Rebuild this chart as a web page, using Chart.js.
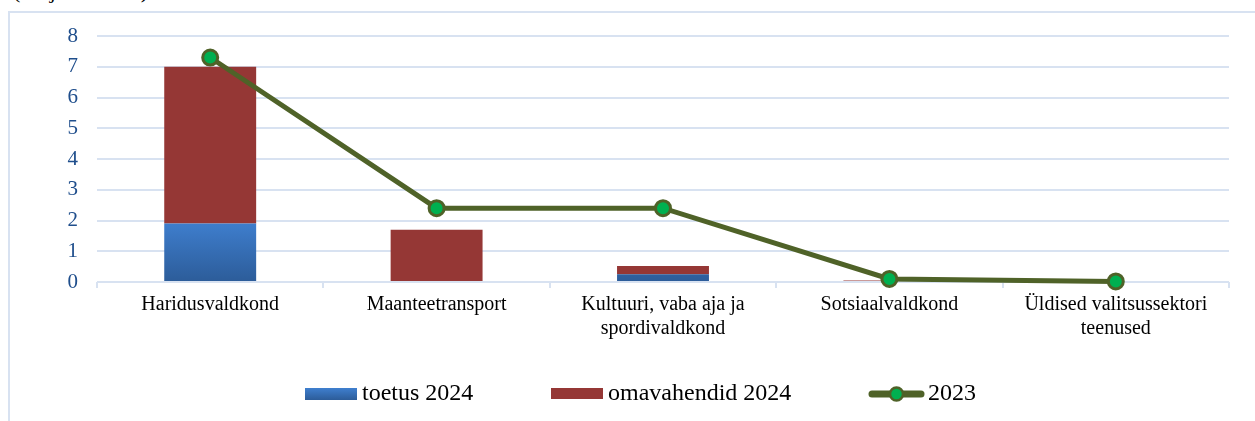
<!DOCTYPE html>
<html>
<head>
<meta charset="utf-8">
<script src="https://cdn.jsdelivr.net/npm/chart.js@4.4.0/dist/chart.umd.min.js"></script>
<style>
html, body { margin: 0; padding: 0; background: #fff; overflow: hidden; }
#wrap { position: relative; width: 1255px; height: 421px; overflow: hidden; }
#frame { position: absolute; left: 8px; top: 11px; right: -10px; bottom: -10px;
         border-left: 2px solid #d8e2f1; border-top: 2px solid #d8e2f1; }
#unit { position: absolute; left: 13px; top: -20px; font: 22px/22px "Liberation Serif", serif; color: #000; white-space: nowrap; }
canvas { position: absolute; left: 0; top: 0; }
</style>
</head>
<body>
<div id="wrap">
  <div id="frame"></div>
  <div id="unit">(miljonit eurot)</div>
  <canvas id="chart" width="1255" height="421"></canvas>
</div>
<script>
// values (mln eur)
const categories = [
    'Haridusvaldkond',
    'Maanteetransport',
    ['Kultuuri, vaba aja ja', 'spordivaldkond'],
    'Sotsiaalvaldkond',
    ['Üldised valitsussektori', 'teenused']
];
const toetus2024 = [1.9, 0, 0.25, 0, 0];
const omavahendid2024 = [5.1, 1.7, 0.27, 0.05, 0];
const values2023 = [7.3, 2.4, 2.4, 0.1, 0.02];
const seriesLabels = ['toetus 2024', 'omavahendid 2024', '2023'];
const yMin = 0, yMax = 8, yStep = 1;

const gridColor = '#d8e2f1';
const blueTop = '#3f7fcf', blueBottom = '#2c5c99';
const red = '#953735';
const olive = '#4f6228';
const green = '#00b050';
const serif = '"Liberation Serif", "Times New Roman", serif';

function blueFill(context) {
    const chart = context.chart;
    if (!chart.chartArea) return blueTop;
    const y = chart.scales.y;
    const g = chart.ctx.createLinearGradient(0, y.getPixelForValue(2), 0, y.getPixelForValue(0));
    g.addColorStop(0, blueTop);
    g.addColorStop(1, blueBottom);
    return g;
}

// legend drawn under the plot, placed like in the original
const bottomLegend = {
    id: 'bottomLegend',
    afterDraw(chart) {
        const ctx = chart.ctx;
        const cy = 394;
        ctx.save();
        let g = ctx.createLinearGradient(0, cy - 6, 0, cy + 6);
        g.addColorStop(0, blueTop);
        g.addColorStop(1, blueBottom);
        ctx.fillStyle = g;
        ctx.fillRect(305, cy - 6, 52, 12);
        ctx.fillStyle = red;
        ctx.fillRect(551, cy - 6, 52, 11);
        ctx.strokeStyle = olive;
        ctx.lineWidth = 7;
        ctx.lineCap = 'round';
        ctx.beginPath();
        ctx.moveTo(872, cy);
        ctx.lineTo(921, cy);
        ctx.stroke();
        ctx.beginPath();
        ctx.arc(896.5, cy, 6.5, 0, Math.PI * 2);
        ctx.fillStyle = green;
        ctx.fill();
        ctx.lineWidth = 2.5;
        ctx.stroke();
        ctx.fillStyle = '#000';
        ctx.font = '24px ' + serif;
        ctx.textBaseline = 'middle';
        ctx.fillText(seriesLabels[0], 362, cy);
        ctx.fillText(seriesLabels[1], 608, cy);
        ctx.fillText(seriesLabels[2], 928, cy);
        ctx.restore();
    }
};

new Chart(document.getElementById('chart').getContext('2d'), {
    data: {
        labels: categories,
        datasets: [
            {
                type: 'bar', label: seriesLabels[0], data: toetus2024,
                backgroundColor: blueFill, stack: 'bars', order: 1,
                barPercentage: 0.406, categoryPercentage: 1
            },
            {
                type: 'bar', label: seriesLabels[1], data: omavahendid2024,
                backgroundColor: red, stack: 'bars', order: 1,
                barPercentage: 0.406, categoryPercentage: 1
            },
            {
                type: 'line', label: seriesLabels[2], data: values2023,
                stack: 'line', order: 0, clip: false,
                borderColor: olive, borderWidth: 5, tension: 0,
                pointRadius: 7.5, pointBorderWidth: 3,
                pointBackgroundColor: green, pointBorderColor: olive
            }
        ]
    },
    options: {
        responsive: false,
        animation: false,
        layout: {padding: {top: 36, right: 26, bottom: 0, left: 0}},
        plugins: {
            legend: {display: false},
            tooltip: {enabled: false}
        },
        scales: {
            x: {
                stacked: true,
                grid: {offset: true, drawOnChartArea: false, drawTicks: true, tickLength: 6, color: gridColor, lineWidth: 2},
                border: {display: false},
                ticks: {color: '#000', font: {family: serif, size: 20}, padding: 5, maxRotation: 0, autoSkip: false},
                afterFit: s => { s.height = 139; }
            },
            y: {
                stacked: true,
                min: yMin, max: yMax,
                grid: {drawTicks: false, color: gridColor, lineWidth: 2},
                border: {display: false},
                ticks: {stepSize: yStep, color: '#1f4e8c', font: {family: serif, size: 21}, padding: 19},
                afterFit: s => { s.width = 97; }
            }
        }
    },
    plugins: [bottomLegend]
});
</script>
</body>
</html>
